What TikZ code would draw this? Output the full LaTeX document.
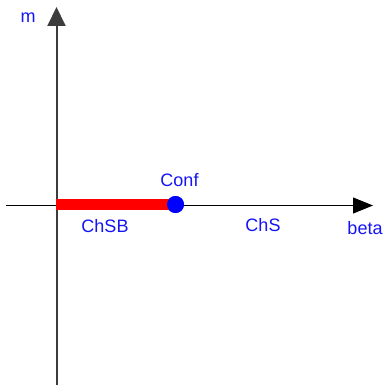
\documentclass[tikz,border=0pt]{standalone}
\usepackage{fontspec}
\setmainfont{Liberation Sans}
\usetikzlibrary{arrows.meta}
\definecolor{lblblue}{RGB}{20,20,245}
\definecolor{axisgray}{RGB}{60,60,60}
\tikzset{
  lbl/.style={text=lblblue, inner sep=0pt, font=\fontsize{18}{21}\selectfont},
}
\begin{document}
\begin{tikzpicture}[x=1pt, y=-1pt]
  \useasboundingbox (0,0) rectangle (386,387);
  % axis end points
  \coordinate (ybot) at (56.5,385);
  \coordinate (ytop) at (56.5,7);
  \coordinate (xleft) at (6,205.5);
  \coordinate (xright) at (373,205.5);
  \coordinate (origin) at (56,204.5);
  % axes
  \draw[line width=2pt, axisgray, -{Triangle[length=19pt,width=18pt]}] (ybot) -- (ytop);
  \draw[line width=1pt, black, -{Triangle[length=20pt,width=16pt]}] (xleft) -- (xright);
  % symmetry-broken segment and its end point
  \node[circle, fill=blue, inner sep=0pt, minimum size=17pt] (conf) at (175.5,204.5) {};
  \draw[red, line width=10.5pt] (origin) -- (conf.center);
  \node[circle, fill=blue, inner sep=0pt, minimum size=17pt] at (conf.center) {};
  % labels
  \node[lbl] (lm) at (28,17.5) {m};
  \node[lbl] (lconf) at (179.5,180) {Conf};
  \node[lbl] (lchsb) at (105,226.5) {ChSB};
  \node[lbl] (lchs) at (263,225) {ChS};
  \node[lbl] (lbeta) at (365,228.5) {beta};
\end{tikzpicture}
\end{document}
